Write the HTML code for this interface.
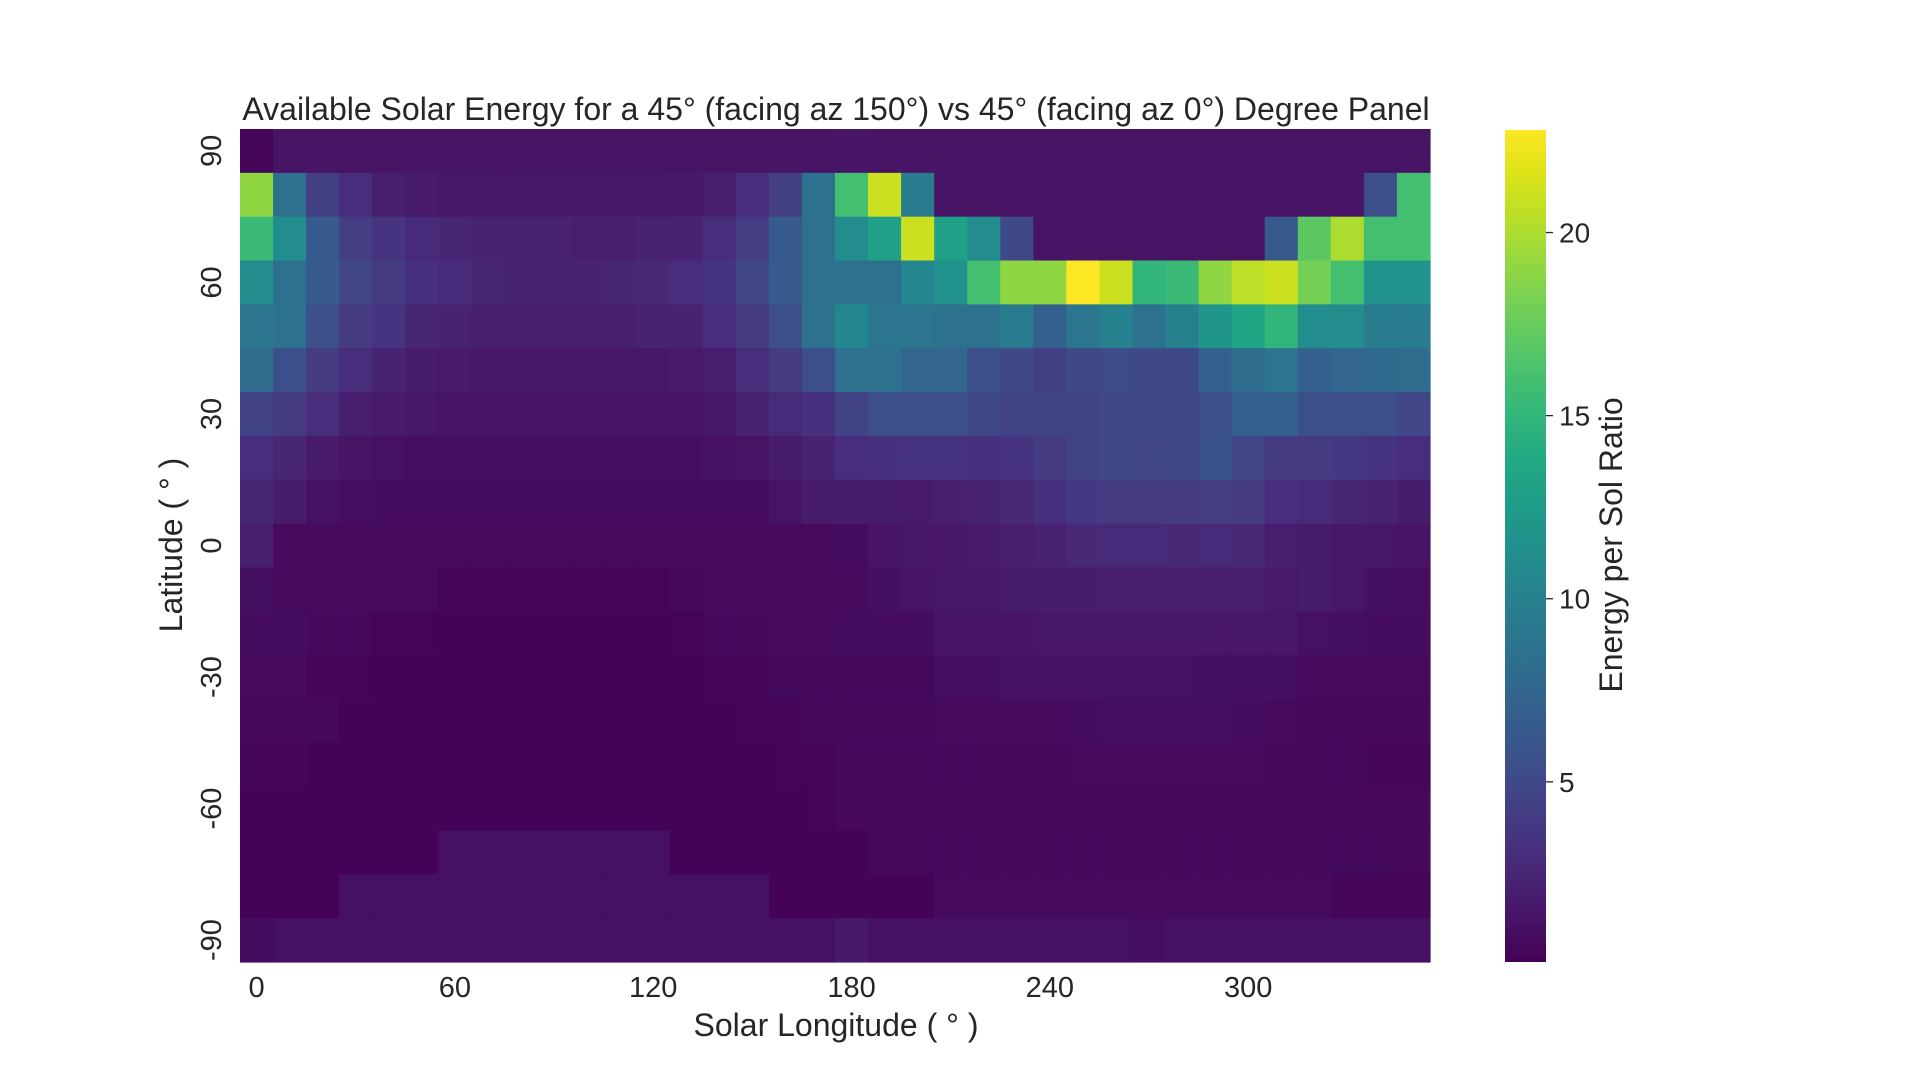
<!DOCTYPE html>
<html><head><meta charset="utf-8"><style>
html,body{margin:0;padding:0;background:#fff;}
svg text{font-family:"Liberation Sans",Arial,sans-serif;fill:#262626;}
</style></head><body>
<svg id="chart" width="1920" height="1080" viewBox="0 0 1920 1080" xmlns="http://www.w3.org/2000/svg">
<defs>
<linearGradient id="vir" x1="0" y1="1" x2="0" y2="0">
<stop offset="0" stop-color="#440154"/><stop offset="0.05" stop-color="#471365"/><stop offset="0.1" stop-color="#482475"/><stop offset="0.15" stop-color="#463480"/><stop offset="0.2" stop-color="#414487"/><stop offset="0.25" stop-color="#3b528b"/><stop offset="0.3" stop-color="#355f8d"/><stop offset="0.35" stop-color="#2f6c8e"/><stop offset="0.4" stop-color="#2a788e"/><stop offset="0.45" stop-color="#25848e"/><stop offset="0.5" stop-color="#21918c"/><stop offset="0.55" stop-color="#1e9c89"/><stop offset="0.6" stop-color="#22a884"/><stop offset="0.65" stop-color="#2fb47c"/><stop offset="0.7" stop-color="#44bf70"/><stop offset="0.75" stop-color="#5ec962"/><stop offset="0.8" stop-color="#7ad151"/><stop offset="0.85" stop-color="#9bd93c"/><stop offset="0.9" stop-color="#bddf26"/><stop offset="0.95" stop-color="#dfe318"/><stop offset="1" stop-color="#fde725"/>
</linearGradient>
</defs>
<text x="836" y="120" font-size="32" text-anchor="middle">Available Solar Energy for a 45° (facing az 150°) vs 45° (facing az 0°) Degree Panel</text>
<g id="cells"></g>
<g id="xticks"></g>
<g id="yticks"></g>
<text x="836" y="1036" font-size="32" text-anchor="middle">Solar Longitude ( ° )</text>
<text x="0" y="0" font-size="32" text-anchor="middle" transform="translate(182,545) rotate(-90)">Latitude ( ° )</text>
<rect x="1505" y="130" width="41" height="832" fill="url(#vir)"/>
<g id="cticks"></g>
<text x="0" y="0" font-size="32" text-anchor="middle" transform="translate(1622,545) rotate(-90)">Energy per Sol Ratio</text>
</svg>
<script>
const longitudes = [0,10,20,30,40,50,60,70,80,90,100,110,120,130,140,150,160,170,180,190,200,210,220,230,240,250,260,270,280,290,300,310,320,330,340,350];
const latitudes = [90,80,70,60,50,40,30,20,10,0,-10,-20,-30,-40,-50,-60,-70,-80,-90];
const xTickLabels = [0,60,120,180,240,300];
const yTickLabels = [90,60,30,0,-30,-60,-90];
const colorbarTicks = [5,10,15,20];
const vmin = 0.08, vmax = 22.8;
const row90 = [0.4,1.3,1.3,1.3,1.3,1.3,1.3,1.3,1.3,1.3,1.3,1.3,1.3,1.3,1.3,1.3,1.3,1.3,1.4,1.3,1.3,1.3,1.3,1.3,1.3,1.3,1.3,1.3,1.3,1.3,1.3,1.3,1.3,1.3,1.3,1.3];
const row80 = [19,8.5,4.3,3,2,1.7,1.5,1.5,1.5,1.5,1.5,1.5,1.5,1.6,2,3,4.3,8.5,16,21,9.5,1.3,1.3,1.3,1.3,1.3,1.3,1.3,1.3,1.3,1.3,1.3,1.3,1.3,5.5,16];
const row70 = [15.5,11,6.5,4.2,3.5,2.8,2.5,2.2,2.2,2.2,2,2,2.2,2.3,3,4.2,6.5,8.5,11,13,21,13,11,5,1.3,1.3,1.3,1.3,1.3,1.3,1.3,6.5,17,20,16,16];
const row60 = [11,8.5,6.5,4.8,4,3.2,2.8,2.5,2.3,2.3,2.3,2.5,2.7,3,3.5,4.8,6.5,8.5,8.5,8.5,10.5,11.5,16,19,19,22.8,21,15,15.5,19,20.5,21,18,16,11.5,11.5];
const row50 = [9,8.5,5.5,4,3.5,2.5,2.2,2,2,2,2,2,2.2,2.2,3,4,5.5,8.5,10.5,9,9,8.5,8.5,9.5,7,9,10,8.5,10,12,13.5,15,11,11,9.5,9.5];
const row40 = [8,5.5,4,3,2.2,1.8,1.7,1.5,1.5,1.5,1.5,1.5,1.5,1.7,2,3,4,5.5,8.5,8.5,7.5,7.5,5.5,5,4.3,5,5.2,5,5,7,8,9,7,7.5,7.8,8];
const row30 = [4.5,4,3,2,1.7,1.5,1.2,1.2,1.2,1.2,1.2,1.2,1.2,1.2,1.5,2.2,2.8,3.3,4.5,5.5,5.5,5.5,5,4.5,4.5,4.5,5,5,5,5.5,7,7,5.5,5.5,5.5,4.8];
const row20 = [3,2.5,1.7,1.3,1.1,0.9,0.9,0.9,0.9,0.9,0.9,0.9,0.9,0.9,1.1,1.3,1.8,2.3,3,3.2,3.5,3.5,3.3,3.5,4,4.5,5,4.8,5,5.7,4.8,4,4,3.8,3.5,3];
const row10 = [2.5,1.8,1.1,0.9,0.8,0.8,0.8,0.8,0.8,0.8,0.8,0.8,0.8,0.8,0.8,0.8,1.2,1.8,1.8,1.8,1.7,2,2.3,2.7,3.2,3.8,4,4,4,4.2,4,3,2.8,2.5,2.3,1.8];
const row0 = [2,0.7,0.7,0.7,0.7,0.7,0.7,0.7,0.7,0.7,0.7,0.7,0.7,0.7,0.7,0.7,0.7,0.7,0.8,1.3,1.5,1.5,1.7,2,2.2,2.7,2.8,2.8,2.7,2.8,2.7,2,1.8,1.5,1.5,1.3];
const rowM10 = [1,0.7,0.7,0.7,0.7,0.7,0.3,0.3,0.3,0.3,0.3,0.3,0.3,0.5,0.7,0.7,0.7,0.7,0.7,1,1.3,1.5,1.5,1.8,1.8,1.8,1.9,1.9,1.9,1.9,1.9,1.7,1.8,1.5,1,0.9];
const rowM20 = [0.8,0.8,0.6,0.6,0.3,0.3,0.2,0.2,0.2,0.2,0.2,0.2,0.2,0.3,0.6,0.6,0.7,0.7,0.8,0.8,0.8,1.3,1.3,1.3,1.5,1.5,1.5,1.5,1.5,1.5,1.5,1.5,1.1,1,0.8,0.8];
const rowM30 = [0.7,0.7,0.4,0.4,0.2,0.2,0.2,0.2,0.2,0.2,0.2,0.2,0.2,0.2,0.3,0.3,0.6,0.6,0.6,0.6,0.6,0.9,0.9,1.1,1.1,1.1,1.1,1.1,1.1,1,1,1,0.7,0.7,0.7,0.7];
const rowM40 = [0.5,0.5,0.5,0.2,0.2,0.2,0.2,0.2,0.2,0.2,0.2,0.2,0.2,0.2,0.2,0.4,0.4,0.6,0.6,0.6,0.6,0.7,0.7,0.7,0.7,0.8,0.9,0.9,0.9,0.9,0.8,0.7,0.5,0.5,0.5,0.5];
const rowM50 = [0.4,0.4,0.2,0.2,0.2,0.2,0.2,0.2,0.2,0.2,0.2,0.2,0.2,0.2,0.2,0.2,0.3,0.3,0.5,0.6,0.6,0.6,0.6,0.6,0.6,0.7,0.7,0.7,0.7,0.7,0.7,0.6,0.6,0.6,0.4,0.4];
const rowM60 = [0.2,0.2,0.2,0.2,0.2,0.2,0.2,0.2,0.2,0.2,0.2,0.2,0.2,0.2,0.2,0.2,0.2,0.3,0.5,0.5,0.5,0.5,0.5,0.5,0.5,0.5,0.5,0.5,0.5,0.5,0.5,0.5,0.5,0.5,0.5,0.5];
const rowM70 = [0.2,0.2,0.2,0.2,0.2,0.2,1.1,1.1,1.1,1.1,1.1,1.1,1.1,0.2,0.2,0.2,0.2,0.2,0.2,0.5,0.6,0.6,0.6,0.6,0.6,0.6,0.6,0.6,0.6,0.6,0.6,0.6,0.6,0.6,0.6,0.5];
const rowM80 = [0.2,0.2,0.2,1.1,1.1,1.1,1.1,1.1,1.1,1.1,1.1,1.1,1.1,1.1,1.1,1.1,0.2,0.2,0.2,0.2,0.2,0.7,0.7,0.7,0.7,0.7,0.7,0.7,0.7,0.7,0.7,0.7,0.7,0.4,0.4,0.4];
const rowM90 = [0.8,1.1,1.1,1.1,1.1,1.1,1.1,1.1,1.1,1.1,1.1,1.1,1.1,1.1,1.1,1.1,1.1,1.1,1.6,1.1,1.1,1.1,1.1,1.1,1.1,1.1,1.1,0.9,1.1,1.1,1.1,1.1,1.1,1.1,1.1,1.1];
const values = [row90,row80,row70,row60,row50,row40,row30,row20,row10,row0,rowM10,rowM20,rowM30,rowM40,rowM50,rowM60,rowM70,rowM80,rowM90];

const X0 = 240, X1 = 1430, Y0 = 129, Y1 = 962;
const cw = (X1 - X0) / longitudes.length, ch = (Y1 - Y0) / latitudes.length;
function xScale(lon){ return X0 + longitudes.indexOf(lon) * cw; }
function yScale(lat){ return Y0 + latitudes.indexOf(lat) * ch; }
function cbScale(v){ return Y1 - (v - vmin) / (vmax - vmin) * (Y1 - 1 - Y0); }
const vir = ["#440154","#471365","#482475","#463480","#414487","#3b528b","#355f8d","#2f6c8e","#2a788e","#25848e","#21918c","#1e9c89","#22a884","#2fb47c","#44bf70","#5ec962","#7ad151","#9bd93c","#bddf26","#dfe318","#fde725"];
function hex(h){ return [1,3,5].map(i=>parseInt(h.substr(i,2),16)); }
function color(v){
  let t = Math.max(0, Math.min(1, (v - vmin) / (vmax - vmin)));
  const p = t * (vir.length - 1), i = Math.min(Math.floor(p), vir.length - 2), f = p - i;
  const a = hex(vir[i]), b = hex(vir[i+1]);
  return "rgb(" + a.map((c,k)=>Math.round(c + (b[k]-c)*f)).join(",") + ")";
}
const NS = "http://www.w3.org/2000/svg";
const cells = document.getElementById("cells");
latitudes.forEach((lat, r) => {
  longitudes.forEach((lon, c) => {
    const el = document.createElementNS(NS, "rect");
    
    
    el.setAttribute("x", xScale(lon).toFixed(2));
    el.setAttribute("y", yScale(lat).toFixed(2));
    el.setAttribute("width", (cw + 0.6).toFixed(2));
    el.setAttribute("height", (ch + 0.6).toFixed(2));
    el.setAttribute("fill", color(values[r][c]));
    cells.appendChild(el);
  });
});
const xt = document.getElementById("xticks");
xTickLabels.forEach(v => {
  const el = document.createElementNS(NS, "text");
  
  
  el.setAttribute("x", (xScale(v) + cw / 2).toFixed(2));
  el.setAttribute("y", "997");
  el.setAttribute("font-size", "29");
  el.setAttribute("text-anchor", "middle");
  el.textContent = v;
  xt.appendChild(el);
});
const yt = document.getElementById("yticks");
yTickLabels.forEach(v => {
  const el = document.createElementNS(NS, "text");
  
  
  const cy = yScale(v) + ch / 2;
  el.setAttribute("transform", "translate(221," + cy.toFixed(2) + ") rotate(-90)");
  el.setAttribute("font-size", "29");
  el.setAttribute("text-anchor", "middle");
  el.textContent = v;
  yt.appendChild(el);
});
const ct = document.getElementById("cticks");
colorbarTicks.forEach(v => {
  const y = cbScale(v);
  const ln = document.createElementNS(NS, "line");
  
  
  ln.setAttribute("x1", "1546"); ln.setAttribute("x2", "1553");
  ln.setAttribute("y1", y.toFixed(2)); ln.setAttribute("y2", y.toFixed(2));
  ln.setAttribute("stroke", "#262626"); ln.setAttribute("stroke-width", "1.3");
  ct.appendChild(ln);
  const el = document.createElementNS(NS, "text");
  
  
  el.setAttribute("x", "1559");
  el.setAttribute("y", (y + 10).toFixed(2));
  el.setAttribute("font-size", "28");
  el.textContent = v;
  ct.appendChild(el);
});
</script>
</body></html>
